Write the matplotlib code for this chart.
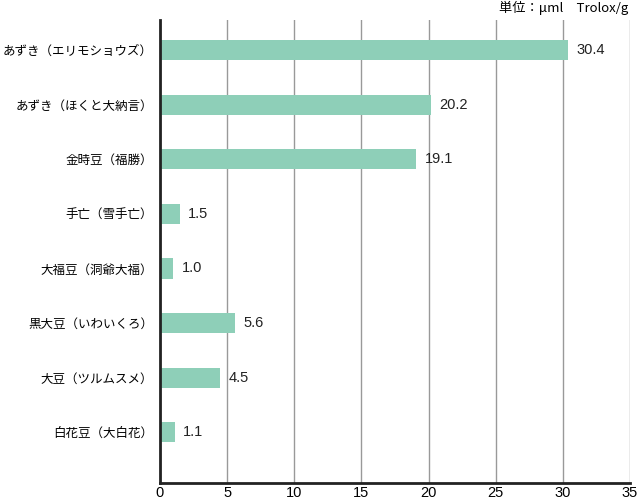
import matplotlib.pyplot as plt

plt.rcParams['font.family'] = ['Noto Sans CJK JP', 'DejaVu Sans']

labels = [
    "あずき（エリモショウズ）",
    "あずき（ほくと大納言）",
    "金時豆（福勝）",
    "手亡（雪手亡）",
    "大福豆（洞爺大福）",
    "黒大豆（いわいくろ）",
    "大豆（ツルムスメ）",
    "白花豆（大白花）",
]
values = [30.4, 20.2, 19.1, 1.5, 1.0, 5.6, 4.5, 1.1]
xticks = [0, 5, 10, 15, 20, 25, 30, 35]

num_font = ['Liberation Sans', 'DejaVu Sans']

fig = plt.figure(figsize=(6.39, 5.03), dpi=100)
ax = fig.add_axes([160 / 639, 20 / 503, 470 / 639, 463 / 503])

pos = list(range(len(labels)))
ax.barh(pos, values, height=0.37, color="#8ecfb8", zorder=2)
for p, v in zip(pos, values):
    ax.text(v + 0.6, p, f"{v:.1f}", va="center", ha="left", fontsize=10.5,
            color="#222222", family=num_font)

ax.set_xlim(0, 35)
ax.set_ylim(len(labels) - 1 + 0.93, -0.55)
ax.set_xticks(xticks)
ax.set_xticklabels([str(t) for t in xticks], fontsize=10.5, family=num_font)
ax.set_yticks(pos)
ax.set_yticklabels(labels, fontsize=9)
ax.tick_params(axis="both", length=0)
ax.tick_params(axis="y", pad=5)
ax.tick_params(axis="x", pad=2)
ax.xaxis.grid(True, color="#999999", linewidth=1, zorder=0)
ax.set_axisbelow(True)

for s in ["top", "right"]:
    ax.spines[s].set_visible(False)
ax.spines["left"].set_linewidth(2)
ax.spines["bottom"].set_linewidth(2)
ax.spines["left"].set_color("#222222")
ax.spines["bottom"].set_color("#222222")

fig.text(628 / 639, 1 - 8 / 503, "単位：μml　Trolox/g", ha="right", va="center", fontsize=9.5)

fig.savefig("out.png", dpi=100)
